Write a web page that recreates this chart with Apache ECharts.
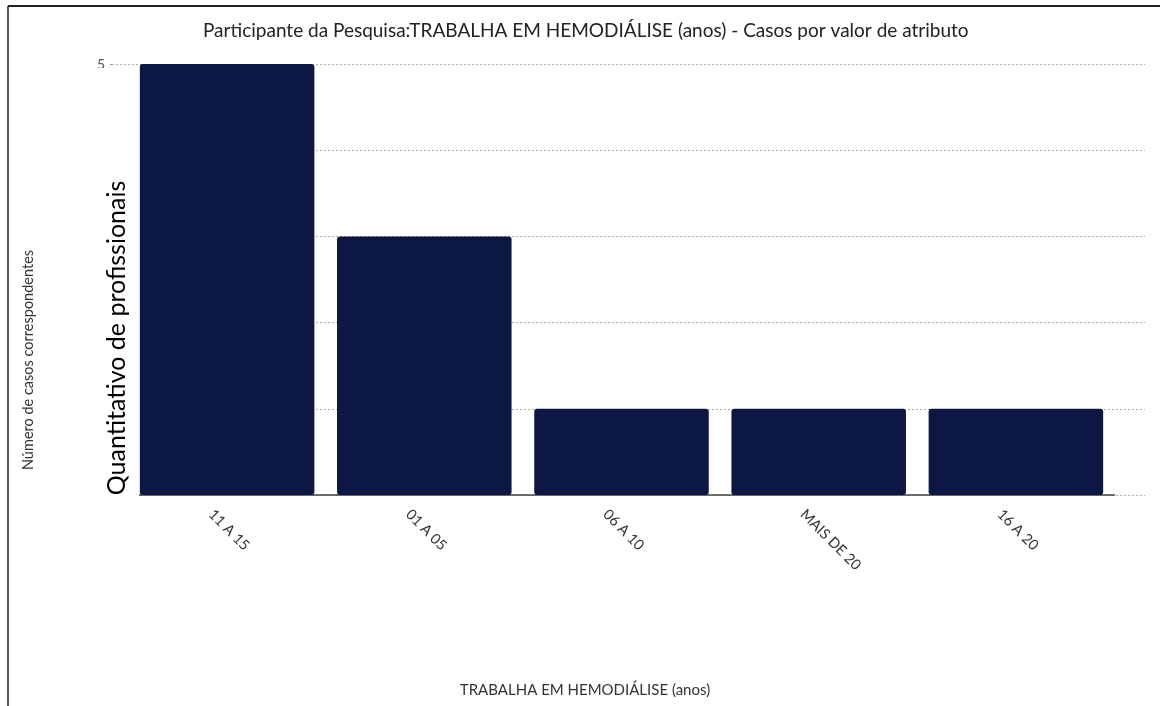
<!DOCTYPE html>
<html>
<head>
<meta charset="utf-8">
<script src="https://cdn.jsdelivr.net/npm/echarts@6/dist/echarts.min.js"></script>
<style>
html,body{margin:0;padding:0;background:#fff;}
#c{width:1160px;height:706px;}
</style>
</head>
<body>
<div id="c"></div>
<script>
const categories = ['11 A 15', '01 A 05', '06 A 10', 'MAIS DE 20', '16 A 20'];
const values = [5, 3, 1, 1, 1];
const yTicks = [0, 1, 2, 3, 4, 5];

const titleText = 'Participante da Pesquisa:TRABALHA EM HEMODIÁLISE (anos) - Casos por valor de atributo';
const xName = 'TRABALHA EM HEMODIÁLISE (anos)';
const yName = 'Número de casos correspondentes';
const overlayText = 'Quantitativo de profissionais';

const FONT = 'Lato, "Open Sans", sans-serif';
const chart = echarts.init(document.getElementById('c'));
chart.setOption({
  animation: false,
  backgroundColor: '#fff',
  title: {
    text: titleText, left: 198, top: 16,
    textStyle: { fontFamily: FONT, fontSize: 19, fontWeight: 'normal', color: '#222' }
  },
  grid: [
    { left: 112, right: 15, top: 64, bottom: 211 },
    { left: 128.5, right: 45.5, top: 64, bottom: 211 },
    { left: 112.5, right: 61.5, top: 64, bottom: 211 }
  ],
  xAxis: [
    { gridIndex: 0, type: 'value', show: false, min: 0, max: 1 },
    {
      gridIndex: 1, type: 'category', data: categories,
      axisLine: { lineStyle: { color: '#444', width: 1.5 } },
      axisTick: { show: false },
      axisLabel: { show: false }
    },
    {
      gridIndex: 2, type: 'category', data: categories,
      axisLine: { show: false },
      axisTick: { show: false },
      axisLabel: {
        rotate: -45, align: 'left', verticalAlign: 'middle', margin: 17,
        fontFamily: FONT, fontSize: 14.5, color: '#333'
      }
    }
  ],
  yAxis: [
    {
      gridIndex: 0, type: 'value', min: yTicks[0], max: yTicks[yTicks.length - 1], interval: 1,
      axisLine: { show: false },
      axisTick: { show: true, length: 2, lineStyle: { color: '#999' } },
      axisLabel: { margin: 7, fontFamily: FONT, fontSize: 14, color: '#555' },
      splitLine: { lineStyle: { type: [2, 2], color: '#b0b0b0', width: 1 } }
    },
    {
      gridIndex: 1, type: 'value', min: yTicks[0], max: yTicks[yTicks.length - 1], interval: 1,
      show: false, splitLine: { show: false }
    },
    {
      gridIndex: 2, type: 'value', min: yTicks[0], max: yTicks[yTicks.length - 1], interval: 1,
      show: false, splitLine: { show: false }
    }
  ],
  series: [{
    type: 'bar', xAxisIndex: 1, yAxisIndex: 1, data: values,
    barCategoryGap: '11.5%',
    itemStyle: { color: '#0d1744', borderRadius: 3 }
  }],
  graphic: [
    { type: 'rect', z: 50, shape: { x: 40, y: 68, width: 99, height: 440 }, style: { fill: '#fff' } },
    { type: 'text', z: 60, x: 117, y: 338, rotation: Math.PI / 2,
      style: { text: overlayText, fontFamily: FONT, fontSize: 25, fill: '#000', align: 'center', verticalAlign: 'middle' } },
    { type: 'text', z: 60, x: 28, y: 360, rotation: Math.PI / 2,
      style: { text: yName, fontFamily: FONT, fontSize: 14.5, fill: '#333', align: 'center', verticalAlign: 'middle' } },
    { type: 'text', z: 60, x: 585, y: 690,
      style: { text: xName, fontFamily: FONT, fontSize: 15, fill: '#333', align: 'center', verticalAlign: 'middle' } },
    { type: 'line', z: 60, shape: { x1: 8, y1: 6, x2: 1160, y2: 6 }, style: { stroke: '#222', lineWidth: 2 } },
    { type: 'line', z: 60, shape: { x1: 8, y1: 6, x2: 8, y2: 706 }, style: { stroke: '#222', lineWidth: 1.5 } }
  ]
});
</script>
</body>
</html>
